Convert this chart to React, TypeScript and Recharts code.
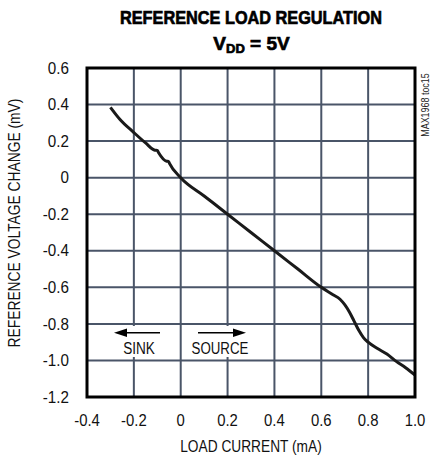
import React from "react";
import { LineChart, Line, XAxis, YAxis, CartesianGrid } from "recharts";

const loadCurrent = [-0.3, -0.26, -0.2, -0.15, -0.11, -0.1, -0.095, -0.06, -0.052, -0.048, 0, 0.1, 0.2, 0.3, 0.4, 0.5, 0.6, 0.65, 0.68, 0.7, 0.72, 0.74, 0.76, 0.78, 0.8, 0.84, 0.88, 0.92, 0.96, 1.0];
const voltageChange = [0.385, 0.32, 0.247, 0.19, 0.15, 0.149, 0.138, 0.09, 0.089, 0.078, 0.0, -0.1, -0.2, -0.3, -0.4, -0.5, -0.6, -0.64, -0.665, -0.695, -0.735, -0.785, -0.835, -0.875, -0.9, -0.935, -0.965, -1.005, -1.04, -1.08];

const xTicks = [-0.4, -0.2, 0, 0.2, 0.4, 0.6, 0.8, 1.0];
const xTickLabels = ["-0.4", "-0.2", "0", "0.2", "0.4", "0.6", "0.8", "1.0"];
const yTicks = [0.6, 0.4, 0.2, 0, -0.2, -0.4, -0.6, -0.8, -1.0, -1.2];
const yTickLabels = ["0.6", "0.4", "0.2", "0", "-0.2", "-0.4", "-0.6", "-0.8", "-1.0", "-1.2"];

const data = loadCurrent.map((x, i) => ({ x, y: voltageChange[i] }));

const FONT = "'Liberation Sans', Arial, sans-serif";

const W: Record<string, number> = {
  " ": 0.278, "(": 0.333, ")": 0.333, "-": 0.333, ".": 0.278, "=": 0.584,
  "0": 0.556, "1": 0.556, "2": 0.556, "3": 0.556, "4": 0.556, "5": 0.556, "6": 0.556, "7": 0.556, "8": 0.556, "9": 0.556,
  A: 0.667, B: 0.667, C: 0.722, D: 0.722, E: 0.667, F: 0.611, G: 0.778, H: 0.722, I: 0.278, K: 0.667, L: 0.556,
  M: 0.833, N: 0.722, O: 0.778, R: 0.722, S: 0.667, T: 0.611, U: 0.722, V: 0.667, X: 0.667,
  m: 0.833, c: 0.5, o: 0.556, t: 0.278,
};
const textWidth = (s: string, size: number, ratio: number) =>
  s.split("").reduce((a, ch) => a + (W[ch] ?? 0.556), 0) * size * ratio;

const fmt = (ticks: number[], labels: string[]) => (v: number) => {
  const i = ticks.findIndex((t) => Math.abs(t - v) < 1e-9);
  return i >= 0 ? labels[i] : String(v);
};
const fmtX = fmt(xTicks, xTickLabels);
const fmtY = fmt(yTicks, yTickLabels);

const XTick = (props: any) => {
  const { x, y, payload } = props;
  const s = fmtX(payload.value);
  return (
    <text x={x} y={y + 13} textAnchor="middle" fontSize={16} fontFamily={FONT} fill="#111"
      textLength={textWidth(s, 16, 0.93)} lengthAdjust="spacingAndGlyphs">{s}</text>
  );
};
const YTick = (props: any) => {
  const { x, y, payload } = props;
  const s = fmtY(payload.value);
  return (
    <text x={x} y={y + 5.7} textAnchor="end" fontSize={16} fontFamily={FONT} fill="#111"
      textLength={textWidth(s, 16, 0.95)} lengthAdjust="spacingAndGlyphs">{s}</text>
  );
};

const Narrow = ({ s, size, ratio, ...rest }: any) => (
  <text fontSize={size} textLength={textWidth(s, size, ratio)} lengthAdjust="spacingAndGlyphs" {...rest}>{s}</text>
);

export default function App() {
  return (
    <div style={{ position: "absolute", left: 0, top: 0, width: 433, height: 459, background: "#fff" }}>
      <LineChart width={433} height={459} data={data} margin={{ top: 68, right: 18, bottom: 0, left: 0 }}>
        <CartesianGrid stroke="#4a5568" strokeWidth={2} />
        <XAxis
          dataKey="x"
          type="number"
          domain={[-0.4, 1.0]}
          ticks={xTicks}
          height={62}
          tickSize={0}
          tickMargin={16}
          axisLine={false}
          tick={<XTick />}
          interval={0}
        />
        <YAxis
          type="number"
          domain={[-1.2, 0.6]}
          ticks={yTicks}
          width={87}
          tickSize={0}
          tickMargin={18}
          axisLine={false}
          tick={<YTick />}
          interval={0}
        />
        <Line
          dataKey="y"
          type="monotone"
          stroke="#1a1a1a"
          strokeWidth={3}
          dot={false}
          isAnimationActive={false}
        />
      </LineChart>
      <svg
        width={433}
        height={459}
        style={{ position: "absolute", left: 0, top: 0, pointerEvents: "none" }}
        fontFamily={FONT}
      >
        <rect x={87} y={68} width={328} height={329} fill="none" stroke="#000" strokeWidth={3} />
        <text x={251} y={23.5} textAnchor="middle" fontSize={19} fontWeight={700} fill="#000" stroke="#000" strokeWidth={0.7}
          textLength={262} lengthAdjust="spacingAndGlyphs">
          REFERENCE LOAD REGULATION
        </text>
        <text x={251.5} y={50} textAnchor="middle" fontSize={19} fontWeight={700} fill="#000" stroke="#000" strokeWidth={0.7}>
          V<tspan fontSize={13} dy={3}>DD</tspan><tspan dy={-3}> = 5V</tspan>
        </text>
        <Narrow s="REFERENCE VOLTAGE CHANGE (mV)" size={16.5} ratio={0.83}
          transform="translate(20,223) rotate(-90)" textAnchor="middle" fill="#111" />
        <Narrow s="LOAD CURRENT (mA)" size={16.5} ratio={0.83} x={251} y={452} textAnchor="middle" fill="#111" />
        <Narrow s="MAX1968 toc15" size={10.5} ratio={0.85}
          transform="translate(429,105) rotate(-90)" textAnchor="middle" fill="#222" />
        <rect x={112} y={326} width={50} height={31} fill="#fff" />
        <rect x={190} y={326} width={60} height={31} fill="#fff" />
        <line x1={125} y1={332.7} x2={160} y2={332.7} stroke="#000" strokeWidth={1.5} />
        <polygon points="114,332.7 127,328.5 127,337" fill="#000" />
        <line x1={198} y1={332.7} x2={235} y2={332.7} stroke="#000" strokeWidth={1.5} />
        <polygon points="246,332.7 233,328.5 233,337" fill="#000" />
        <Narrow s="SINK" size={16} ratio={0.85} x={139} y={353.5} textAnchor="middle" fill="#111" />
        <Narrow s="SOURCE" size={16} ratio={0.83} x={220} y={353.5} textAnchor="middle" fill="#111" />
      </svg>
    </div>
  );
}
